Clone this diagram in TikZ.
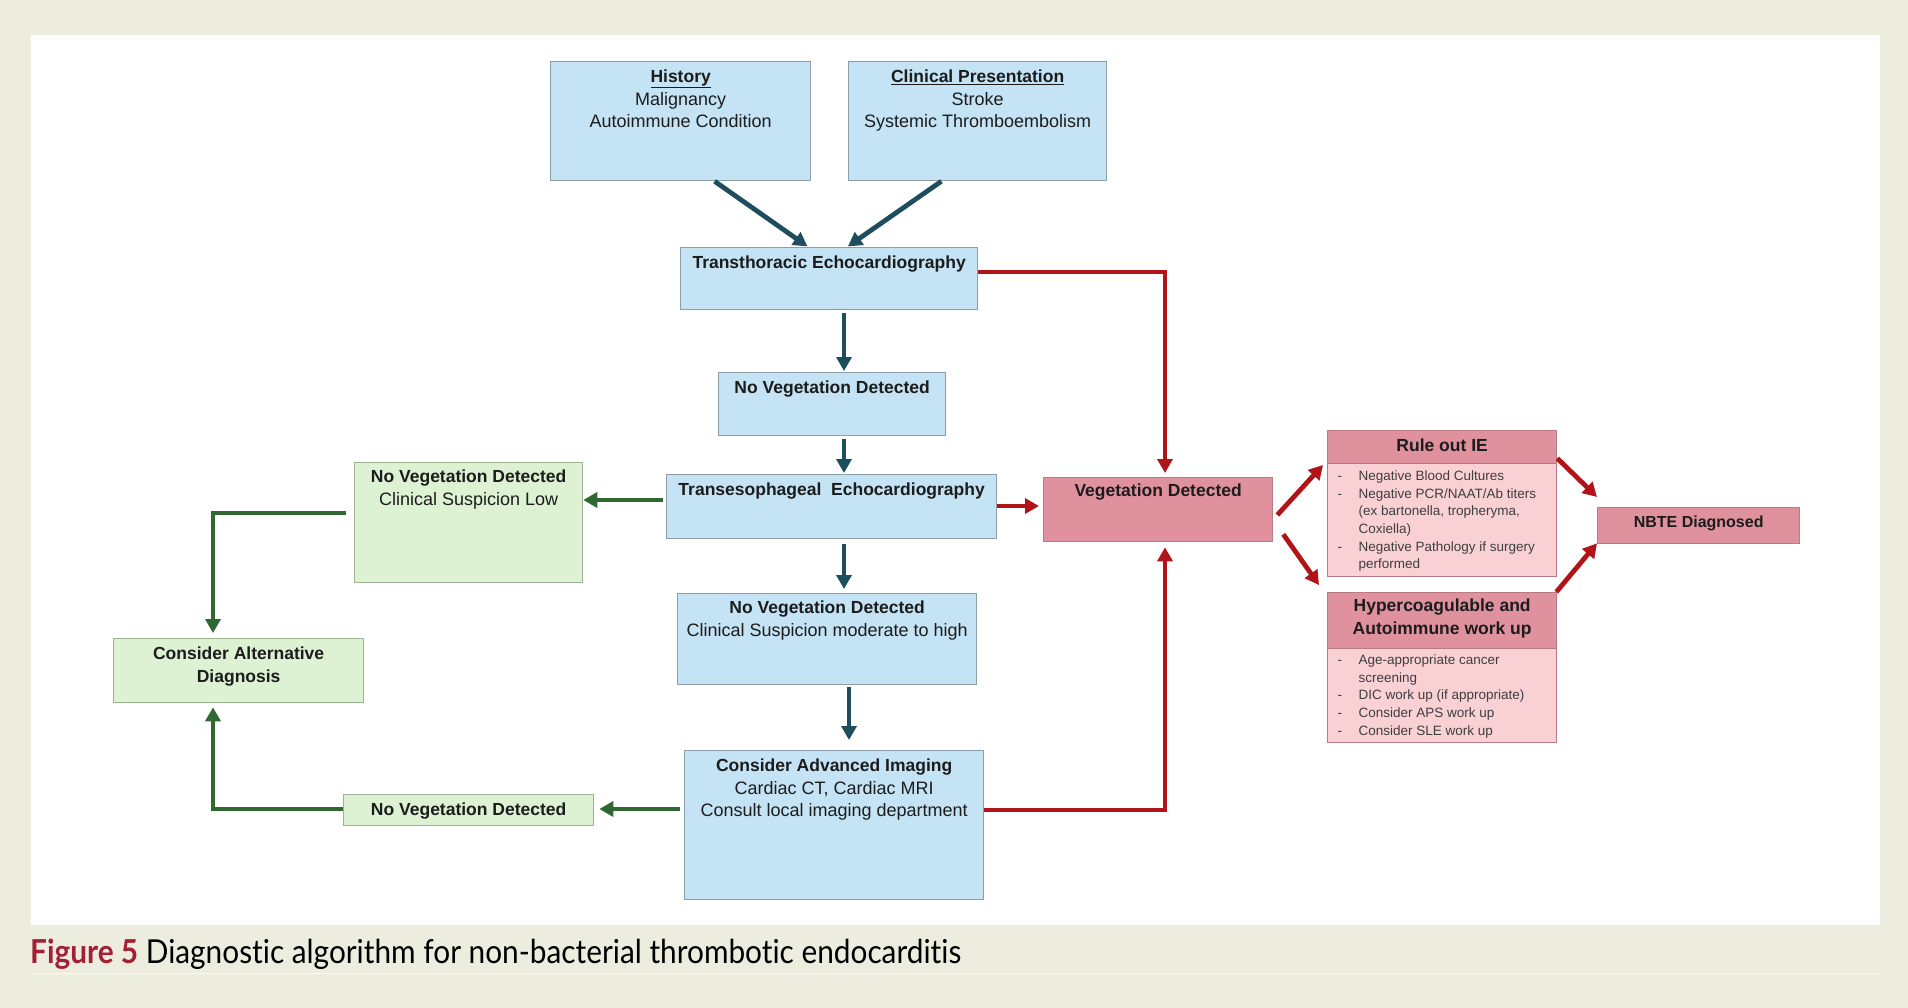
\documentclass[tikz,border=0pt]{standalone}
\usepackage{fontspec}
\setmainfont{Liberation Sans}
\newfontfamily\capfont{Lato}[Ligatures=NoCommon]
\usepackage{graphicx}
\usetikzlibrary{arrows.meta,calc}
\definecolor{bgc}{HTML}{EDEDDF}
\definecolor{bluefill}{HTML}{C4E4F5}
\definecolor{blueedge}{HTML}{8C9EA8}
\definecolor{greenfill}{HTML}{DCF2D3}
\definecolor{greenedge}{HTML}{9DB291}
\definecolor{redfill}{HTML}{E0919E}
\definecolor{rededge}{HTML}{B87A84}
\definecolor{pinkfill}{HTML}{F9D1D5}
\definecolor{txt}{HTML}{1C1C1C}
\definecolor{arrteal}{HTML}{1E4D5E}
\definecolor{arrgreen}{HTML}{2F6830}
\definecolor{arrred}{HTML}{B01318}
\definecolor{capred}{HTML}{A31F34}
\newcommand{\bxt}[4]{\begin{minipage}[t][#2][t]{#1}\centering\rule{0pt}{#3}#4\end{minipage}}
\newcommand{\hd}[1]{{\fontsize{17.5}{22.5}\selectfont\bfseries #1}}
\newcommand{\dashitem}[1]{\par\noindent\llap{\makebox[21pt][l]{-}}#1}
\newcommand{\lstbox}[3]{\begin{minipage}[t][#2][t]{#1}\fontsize{13.5}{17.6}\selectfont\raggedright\leftskip=31pt\parskip=0pt\parindent=0pt #3\end{minipage}}
\tikzset{
  basebox/.style={line width=1.3pt, inner sep=0pt, anchor=north west, text=txt, font=\fontsize{18}{22.5}\selectfont},
  bluebox/.style={basebox, draw=blueedge, fill=bluefill},
  greenbox/.style={basebox, draw=greenedge, fill=greenfill},
  redbox/.style={basebox, draw=rededge, fill=redfill},
  pinkbox/.style={basebox, draw=rededge, fill=pinkfill, text=txt!85},
  conn/.style={line width=4.8pt, -{Triangle[length=14pt,width=15pt]}},
  tealc/.style={conn, draw=arrteal},
  greenc/.style={conn, draw=arrgreen},
  redc/.style={conn, draw=arrred},
}
\begin{document}
\begin{tikzpicture}[x=1pt,y=-1pt]
\useasboundingbox (0,0) rectangle (1908,1008);
\fill[bgc] (0,0) rectangle (1908,1008);
\fill[white] (31,35) rectangle (1880,925);
\draw[line width=1pt, color=white!60!bgc] (30,973) -- (1880,973);

% blue column
\node[bluebox] (hist) at (550,61) {\bxt{260pt}{119pt}{21pt}{\hd{\underline{History}}\\Malignancy\\Autoimmune Condition}};
\node[bluebox] (clin) at (848,61) {\bxt{258pt}{119pt}{21pt}{\hd{\underline{Clinical Presentation}}\\Stroke\\Systemic Thromboembolism}};
\node[bluebox] (tte) at (680,247) {\bxt{297pt}{62pt}{21pt}{\hd{Transthoracic Echocardiography}}};
\node[bluebox] (nvd1) at (718,372) {\bxt{227pt}{63pt}{21pt}{\hd{No Vegetation Detected}}};
\node[bluebox] (tee) at (666,474) {\bxt{330pt}{64pt}{21pt}{\hd{Transesophageal\ \ Echocardiography}}};
\node[bluebox] (nvd2) at (677,593) {\bxt{299pt}{91pt}{20pt}{\hd{No Vegetation Detected}\\Clinical Suspicion moderate to high}};
\node[bluebox] (cai) at (684,750) {\bxt{299pt}{149pt}{21pt}{\hd{Consider Advanced Imaging}\\Cardiac CT, Cardiac MRI\\Consult local imaging department}};

% green
\node[greenbox] (glow) at (354,462) {\bxt{228pt}{120pt}{20pt}{\hd{No Vegetation Detected}\\Clinical Suspicion Low}};
\node[greenbox] (galt) at (113,638) {\bxt{250pt}{64pt}{21pt}{\hd{Consider Alternative}\\\hd{Diagnosis}}};
\node[greenbox] (gnvd) at (343,794) {\bxt{250pt}{31pt}{21pt}{\hd{No Vegetation Detected}}};

% red
\node[redbox] (vd) at (1043,477) {\bxt{229pt}{64pt}{19pt}{\hd{Vegetation Detected}}};
\node[redbox] (rieh) at (1327,430) {\bxt{229pt}{33pt}{21pt}{\hd{Rule out IE}}};
\node[pinkbox] (rieb) at (1327,463) {\lstbox{229pt}{113pt}{%
  \dashitem{\rule{0pt}{17pt}Negative Blood Cultures}%
  \dashitem{Negative PCR/NAAT/Ab titers\\(ex bartonella, tropheryma,\\Coxiella)}%
  \dashitem{Negative Pathology if surgery\\performed}}};
\node[redbox] (hyph) at (1327,592) {\bxt{229pt}{56pt}{19pt}{\hd{Hypercoagulable and}\\\hd{Autoimmune work up}}};
\node[pinkbox] (hypb) at (1327,648) {\lstbox{229pt}{94pt}{%
  \dashitem{\rule{0pt}{16pt}Age-appropriate cancer\\screening}%
  \dashitem{DIC work up (if appropriate)}%
  \dashitem{Consider APS work up}%
  \dashitem{Consider SLE work up}}};
\node[redbox] (nbte) at (1597,507) {\bxt{202pt}{36pt}{20pt}{{\fontsize{16}{20}\selectfont\bfseries NBTE Diagnosed}}};

% caption
\node[anchor=base west, inner sep=0pt] (cap) at (30,963) {\resizebox{931pt}{\height}{\capfont\fontsize{33}{40}\selectfont\textcolor{capred}{\bfseries Figure 5} Diagnostic algorithm for non-bacterial thrombotic endocarditis}};

% helper coordinates
\coordinate (vx) at (844,0);
\coordinate (vx2) at (849,0);
\coordinate (gx) at (213,0);
\coordinate (rx) at (1165,0);
\coordinate (yA) at (0,500);
\coordinate (yB) at (0,513);
\coordinate (yC) at (0,809);
\coordinate (yD) at (0,272);
\coordinate (yE) at (0,506);
\coordinate (yF) at (0,810);

% teal connectors
\draw[tealc, shorten >=1pt] ($(hist.south west)!0.63!(hist.south east)$) -- ($(tte.north west)!0.43!(tte.north east)$);
\draw[tealc, shorten >=1pt] ($(clin.south west)!0.36!(clin.south east)$) -- ($(tte.north west)!0.56!(tte.north east)$);
\draw[tealc, shorten <=3pt, shorten >=1pt] (tte.south -| vx) -- (nvd1.north -| vx);
\draw[tealc, shorten <=3pt, shorten >=1pt] (nvd1.south -| vx) -- (tee.north -| vx);
\draw[tealc, shorten <=5pt, shorten >=4pt] (tee.south -| vx) -- (nvd2.north -| vx);
\draw[tealc, shorten <=2pt, shorten >=10pt] (nvd2.south -| vx2) -- (cai.north -| vx2);

% green connectors
\draw[greenc, shorten <=3pt] (tee.west |- yA) -- (glow.east |- yA);
\draw[greenc, shorten <=8pt, shorten >=5pt] (glow.west |- yB) -| (galt.north -| gx);
\draw[greenc, shorten <=4pt, shorten >=5pt] (cai.west |- yC) -- (gnvd.east |- yC);
\draw[greenc, shorten >=4pt] (gnvd.west |- yC) -| (galt.south -| gx);

% red connectors
\draw[redc, shorten >=4pt] (tte.east |- yD) -| (vd.north -| rx);
\draw[redc, shorten >=4pt] (tee.east |- yE) -- (vd.west |- yE);
\draw[redc, shorten >=5pt] (cai.east |- yF) -| (vd.south -| rx);
\draw[redc] ($(vd.north east)+(4,38)$) -- ($(rieb.north west)+(-4,2)$);
\draw[redc] ($(vd.south east)+(10,-8)$) -- ($(hyph.north west)+(-8,-7)$);
\draw[redc] ($(rieh.south east)+(0,-6)$) -- ($(nbte.north west)+(0,-10)$);
\draw[redc] ($(hyph.north east)+(-1,0)$) -- ($(nbte.south west)+(0,-1)$);
\end{tikzpicture}
\end{document}
